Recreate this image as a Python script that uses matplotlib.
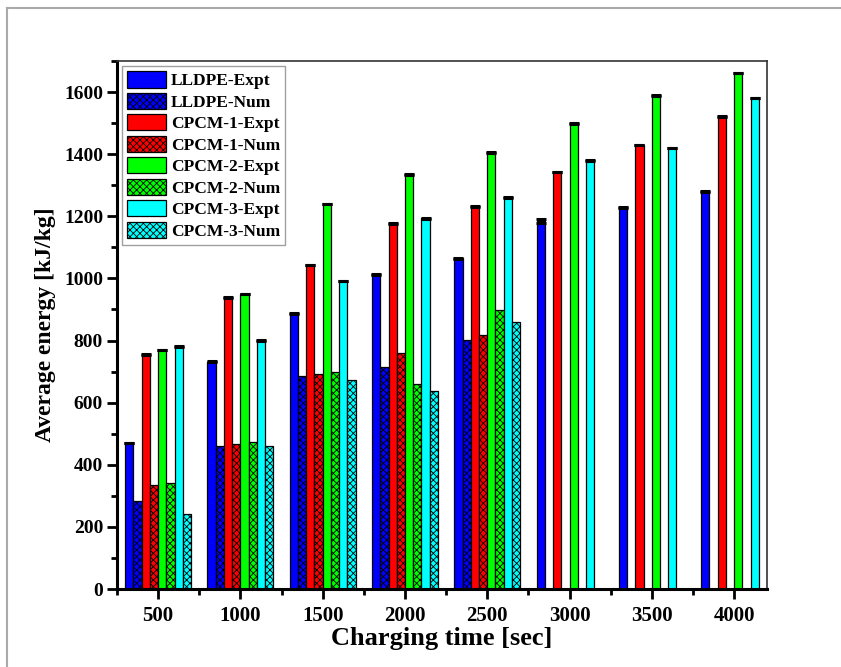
"""grouped bar chart of average energy vs charging time"""

import numpy as np
import matplotlib
matplotlib.use('Agg')
import matplotlib.pyplot as plt
from matplotlib.lines import Line2D
from matplotlib.ticker import MultipleLocator

# data
times = [500, 1000, 1500, 2000, 2500, 3000, 3500, 4000]
num_times = [500, 1000, 1500, 2000, 2500]

lldpe_expt = [470, 732, 887, 1013, 1065, 1185, 1229, 1280]
lldpe_num = [282, 462, 687, 716, 801]
cpcm1_expt = [755, 938, 1043, 1176, 1231, 1343, 1430, 1521]
cpcm1_num = [334, 466, 691, 760, 818]
cpcm2_expt = [769, 950, 1240, 1335, 1405, 1498, 1590, 1662]
cpcm2_num = [341, 474, 700, 661, 897]
cpcm3_expt = [780, 801, 992, 1193, 1261, 1380, 1420, 1581]
cpcm3_num = [242, 462, 674, 638, 860]

# small error bars on the experimental values
lldpe_err = [1, 1, 1, 1, 1, 6, 1, 1]
cpcm1_err = [1, 1, 1, 1, 1, 1, 1, 1]
cpcm2_err = [1, 1, 1, 1, 1, 1, 1, 1]
cpcm3_err = [1, 1, 1, 1, 1, 1, 1, 1]

labels = ['LLDPE-Expt', 'LLDPE-Num', 'CPCM-1-Expt', 'CPCM-1-Num',
          'CPCM-2-Expt', 'CPCM-2-Num', 'CPCM-3-Expt', 'CPCM-3-Num']
colors = ['#0000ff', '#ff0000', '#00ff00', '#00ffff']

# settings
plt.rcParams['font.family'] = ['Liberation Serif', 'DejaVu Serif']
plt.rcParams['font.weight'] = 'bold'
plt.rcParams['hatch.linewidth'] = 0.6
plt.rcParams['hatch.color'] = 'black'

fig = plt.figure(figsize=(8.41, 6.67), dpi=100)
ax = fig.add_axes([0.1391, 0.1169, 0.7729, 0.7916])

width = 50
series = [
    (lldpe_expt, lldpe_err, lldpe_num),
    (cpcm1_expt, cpcm1_err, cpcm1_num),
    (cpcm2_expt, cpcm2_err, cpcm2_num),
    (cpcm3_expt, cpcm3_err, cpcm3_num),
]

# draw bars
for k, (expt, err, num) in enumerate(series):
    off_e = (2 * k - 3.5) * width
    off_n = (2 * k + 1 - 3.5) * width
    x_e = np.array(times) + off_e
    x_n = np.array(num_times) + off_n
    ax.bar(x_e, expt, width, color=colors[k], edgecolor='black', linewidth=0.9,
           label=labels[2 * k], zorder=2)
    ax.errorbar(x_e, expt, yerr=err, fmt='none', ecolor='black', elinewidth=1.2,
                capsize=3.8, capthick=2.2, zorder=3)
    ax.bar(x_n, num, width, color=colors[k], edgecolor='black', linewidth=0.9,
           hatch='xxxxx', label=labels[2 * k + 1], zorder=2)

# axes
ax.set_xlim(250, 4200)
ax.set_ylim(0, 1700)
ax.set_xticks(times)
ax.xaxis.set_minor_locator(MultipleLocator(250))
ax.yaxis.set_major_locator(MultipleLocator(200))
ax.yaxis.set_minor_locator(MultipleLocator(100))
ax.tick_params(axis='both', which='major', direction='out', length=7, width=2)
ax.tick_params(axis='both', which='minor', direction='out', length=4, width=2)
ax.tick_params(axis='x', labelsize=15, pad=5)
ax.tick_params(axis='y', labelsize=14, pad=3)
for lab in ax.get_xticklabels() + ax.get_yticklabels():
    lab.set_fontweight('bold')

for side in ['left', 'bottom']:
    ax.spines[side].set_linewidth(2.2)
    ax.spines[side].set_color('black')
for side in ['top', 'right']:
    ax.spines[side].set_linewidth(1.2)
    ax.spines[side].set_color('#333333')

ax.set_xlabel('Charging time [sec]', fontsize=19, fontweight='bold', labelpad=1)
ax.set_ylabel('Average energy [kJ/kg]', fontsize=17, fontweight='bold', labelpad=6)

# legend
leg = ax.legend(loc='upper left', fontsize=12.5, frameon=True, fancybox=False,
                handlelength=2.2, handleheight=1.05, labelspacing=0.2,
                handletextpad=0.3, borderpad=0.3, borderaxespad=0.3)
leg.get_frame().set_edgecolor('#888888')
leg.get_frame().set_linewidth(1.0)
for t in leg.get_texts():
    t.set_fontweight('bold')

# outer frame of the picture
fx = 7 / 841
fy = 1 - 8 / 667
fig.add_artist(Line2D([fx, 1.0], [fy, fy], transform=fig.transFigure,
                      color='#aaaaaa', linewidth=1.5))
fig.add_artist(Line2D([fx, fx], [0.0, fy], transform=fig.transFigure,
                      color='#aaaaaa', linewidth=1.5))

fig.savefig('out.png', dpi=100)
